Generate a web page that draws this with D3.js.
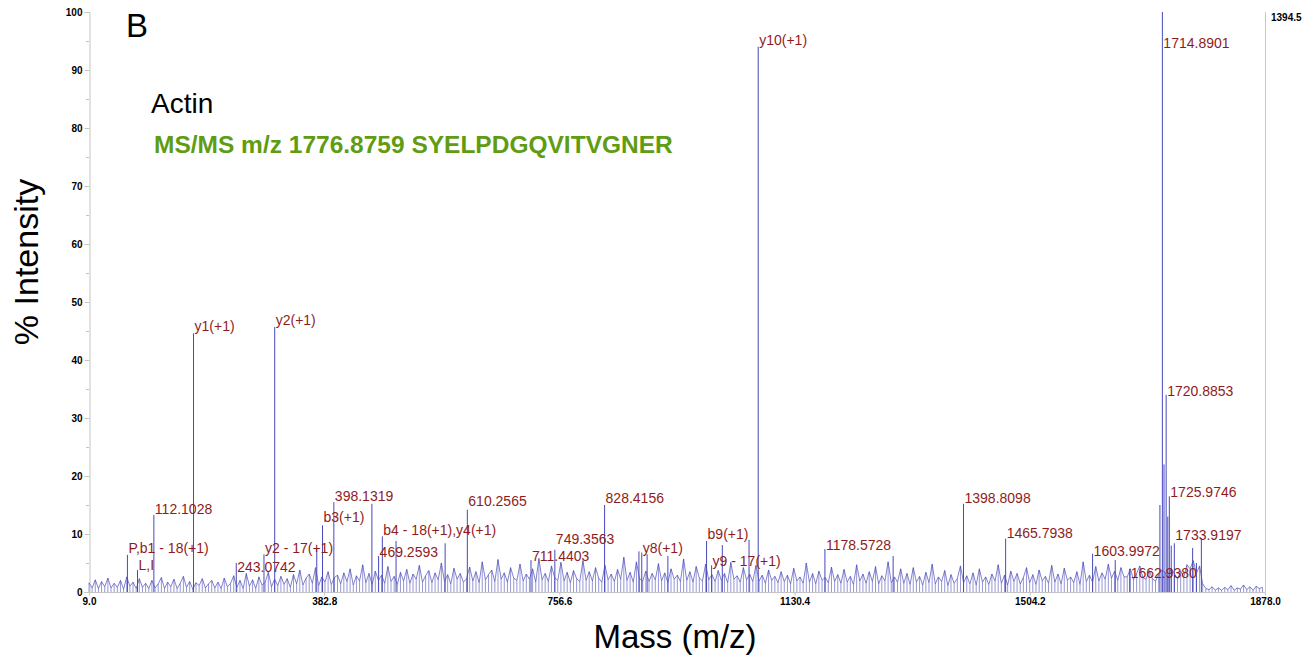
<!DOCTYPE html>
<html>
<head>
<meta charset="utf-8">
<script src="https://cdn.jsdelivr.net/npm/d3@7"></script>
<style>
  body { margin: 0; background: #fff; }
  svg { display: block; font-family: Arial, "Liberation Sans", sans-serif; }
  .tick text { font-weight: bold; font-size: 10px; fill: #000; }
  .tick line, .domain { stroke: #c4c4c4; }
</style>
</head>
<body>
<div id="chart"></div>
<script>
// noise trace, one value every 5 m/z starting at 9
var noiseStart = 9, noiseStep = 5;
var noise = [
  1.6,0.7,2.1,0.6,1.8,0.9,2.4,0.7,1.5,0.8,2.0,0.5,2.6,1.0,1.7,0.6,2.3,0.8,1.5,0.6,
  2.0,0.7,1.4,2.5,0.6,1.7,0.9,2.2,0.6,1.5,2.7,0.8,1.8,0.5,1.6,1.1,2.3,0.7,1.4,2.0,
  0.7,1.7,0.6,2.4,0.9,1.5,2.8,0.8,2.0,0.6,3.2,1.0,2.1,0.6,2.6,1.2,1.7,3.4,0.9,2.2,
  1.1,2.7,1.3,2.3,0.8,3.0,1.4,3.8,1.2,2.4,3.1,1.5,4.2,1.1,2.6,1.7,3.5,1.3,2.5,2.9,
  1.4,3.3,1.8,4.0,1.2,2.8,1.9,4.7,1.6,3.2,1.3,3.6,2.0,2.9,1.5,4.4,1.8,2.7,1.3,3.4,
  1.9,3.9,1.5,3.1,2.2,4.6,1.7,2.8,3.7,1.6,3.3,2.1,5.0,1.8,3.0,1.4,4.1,2.2,3.2,1.7,
  2.3,4.3,1.9,3.5,1.6,5.2,2.1,3.0,3.8,1.8,5.6,2.2,3.3,1.7,4.2,2.4,2.0,4.8,1.9,3.1,
  2.2,4.0,1.7,5.8,2.1,3.2,1.8,4.5,2.5,2.0,5.1,1.9,3.4,1.6,3.7,2.3,1.8,5.4,2.0,3.5,
  1.9,4.2,2.4,1.7,4.6,2.1,3.1,1.8,3.9,2.2,6.0,2.0,3.4,1.7,5.2,2.3,1.9,3.6,1.8,3.2,
  2.1,4.9,1.9,3.3,1.6,4.0,2.2,2.9,1.8,5.7,2.0,3.5,1.7,4.4,2.4,1.9,4.8,2.1,3.0,1.8,
  3.7,2.0,3.2,1.6,5.1,2.2,2.8,1.7,4.2,2.1,3.1,1.8,4.6,1.9,2.9,1.5,3.8,2.0,2.7,1.6,
  3.5,1.8,2.9,1.4,4.1,1.9,2.6,1.5,5.0,1.7,3.2,1.4,3.6,2.0,2.5,1.6,4.3,1.8,3.0,1.5,
  3.9,1.7,2.7,1.3,4.7,1.9,3.1,1.5,3.5,1.8,4.4,1.4,2.8,1.9,5.2,1.6,2.6,1.7,4.0,1.5,
  3.2,1.3,4.2,1.7,2.7,1.2,3.4,1.6,4.8,1.4,2.6,1.8,3.7,1.1,3.0,1.5,2.3,4.5,1.6,2.8,
  1.4,3.3,1.2,4.0,1.7,2.6,1.3,3.1,1.9,4.7,1.5,2.9,1.2,3.6,1.8,3.2,1.4,2.5,4.2,1.6,
  3.0,1.3,3.8,1.9,2.7,1.5,4.6,1.7,3.1,1.4,4.1,2.0,2.6,1.6,3.5,1.3,5.2,1.8,2.9,1.7,
  4.4,1.9,3.3,2.2,4.8,2.4,3.6,2.0,4.2,2.6,2.6,4.0,2.1,3.2,4.5,2.5,2.2,3.7,2.3,1.9,
  3.0,3.8,3.4,2.4,4.1,3.2,2.2,3.6,2.6,4.7,4.0,5.4,3.2,4.5,1.4,0.6,0.4,0.9,0.3,0.7,
  0.3,0.8,0.4,1.1,0.3,0.7,0.5,1.2,0.4,0.9,0.3,1.0,0.6,0.8
];

// main fragment peaks (m/z, % intensity)
var peakMz = [70.05, 86.1, 112.10, 175.12, 243.07, 287.1, 304.16, 371, 380.14, 398.13,
  458.6, 469.26, 475.2, 497, 575, 610.26, 711.44, 749.36, 828.42, 883, 887.5, 896, 929,
  990.5, 998.5, 1015.5, 1058, 1072.57, 1178.57, 1287, 1398.81, 1465.79, 1604.0, 1640,
  1662.94, 1711, 1714.89, 1717.5, 1720.89, 1723.5, 1725.97, 1729, 1733.92, 1763, 1769, 1776.88];
var peakInt = [6.4, 3.8, 13.3, 44.6, 5.0, 6.5, 45.7, 7.5, 11.5, 15.5,
  15.2, 6.2, 9.6, 8.8, 8.4, 14.2, 5.5, 7.3, 15.0, 7.0, 6.8, 6.5, 6.2,
  8.8, 4.6, 8.1, 9.0, 94.0, 7.4, 6.2, 15.2, 9.2, 6.6, 5.5,
  4.0, 15.0, 100, 22.0, 34.0, 13.0, 16.5, 8.0, 8.4, 7.6, 5.0, 9.3];

// annotations: anchor m/z, text, level (% intensity) of the text baseline
var labelMz = [70.05, 86.1, 112.10, 175.12, 243.07, 287.1, 304.16, 380.14, 398.13, 475.2,
  469.26, 610.26, 711.44, 749.36, 828.42, 887.5, 990.5, 998.5, 1072.57, 1178.57,
  1398.81, 1465.79, 1604.0, 1662.94, 1714.89, 1720.89, 1725.97, 1733.92];
var labelText = ["P,b1 - 18(+1)", "L,I", "112.1028", "y1(+1)", "243.0742", "y2 - 17(+1)", "y2(+1)",
  "b3(+1)", "398.1319", "b4 - 18(+1),y4(+1)", "469.2593", "610.2565", "711.4403", "749.3563",
  "828.4156", "y8(+1)", "b9(+1)", "y9 - 17(+1)", "y10(+1)", "1178.5728", "1398.8098",
  "1465.7938", "1603.9972", "1662.9380", "1714.8901", "1720.8853", "1725.9746", "1733.9197"];
var labelLevel = [6.7, 3.8, 13.4, 45.0, 3.4, 6.7, 46.0, 12.0, 15.7, 9.8,
  6.0, 14.8, 5.3, 8.3, 15.3, 6.7, 9.1, 4.5, 94.3, 7.2,
  15.3, 9.3, 6.2, 2.4, 93.8, 33.8, 16.4, 9.0];

var xTickVals = [9.0, 382.8, 756.6, 1130.4, 1504.2, 1878.0];
var yTickVals = [0, 10, 20, 30, 40, 50, 60, 70, 80, 90, 100];
var yMinorVals = [5, 15, 25, 35, 45, 55, 65, 75, 85, 95];

var width = 1310, height = 657;
var plotLeft = 89, plotRight = 1265, plotTop = 12, plotBottom = 592;

var svg = d3.select("#chart").append("svg")
  .attr("width", width)
  .attr("height", height);

var x = d3.scaleLinear().domain([9, 1878]).range([plotLeft, plotRight]);
var y = d3.scaleLinear().domain([0, 100]).range([plotBottom, plotTop]);

// frame: right border
svg.append("line")
  .attr("x1", plotRight + 0.5).attr("x2", plotRight + 0.5)
  .attr("y1", plotTop).attr("y2", plotBottom)
  .attr("stroke", "#c8c8c8");

// axes
svg.append("g")
  .attr("transform", "translate(" + (plotLeft + 0.5) + ",0)")
  .call(d3.axisLeft(y).tickValues(yTickVals).tickSize(5).tickPadding(2).tickFormat(d3.format("d")));

svg.append("g").selectAll("line")
  .data(yMinorVals)
  .enter().append("line")
  .attr("x1", plotLeft - 3).attr("x2", plotLeft)
  .attr("y1", function(d) { return Math.round(y(d)) + 0.5; })
  .attr("y2", function(d) { return Math.round(y(d)) + 0.5; })
  .attr("stroke", "#c4c4c4");

var xAxis = svg.append("g")
  .attr("transform", "translate(0," + (plotBottom + 0.5) + ")")
  .call(d3.axisBottom(x).tickValues(xTickVals).tickSize(3).tickPadding(2).tickFormat(d3.format(".1f")));
xAxis.select(".domain").attr("d", "M" + plotLeft + ",0H" + plotRight);

// noise: thin sticks plus the trace joining their tops
var noisePts = noise.map(function(v, i) { return [noiseStart + i * noiseStep, v]; });
svg.append("g").selectAll("line")
  .data(noisePts)
  .enter().append("line")
  .attr("x1", function(d) { return x(d[0]); })
  .attr("x2", function(d) { return x(d[0]); })
  .attr("y1", y(0))
  .attr("y2", function(d) { return y(d[1]); })
  .attr("stroke", "#6a6ac4")
  .attr("stroke-width", 0.7);
svg.append("path")
  .datum(noisePts)
  .attr("fill", "none")
  .attr("stroke", "#4a4ab8")
  .attr("stroke-width", 0.7)
  .attr("d", d3.line().x(function(d) { return x(d[0]); }).y(function(d) { return y(d[1]); }));

// peaks as sticks
svg.append("g").selectAll("line")
  .data(peakMz)
  .enter().append("line")
  .attr("x1", function(d) { return x(d); })
  .attr("x2", function(d) { return x(d); })
  .attr("y1", y(0))
  .attr("y2", function(d, i) { return y(peakInt[i]); })
  .attr("stroke", "#4848bc")
  .attr("stroke-width", 1);

// peak annotations
svg.append("g").selectAll("text")
  .data(labelMz)
  .enter().append("text")
  .attr("x", function(d) { return x(d) + 1; })
  .attr("y", function(d, i) { return y(labelLevel[i]); })
  .attr("fill", "#8f1c1c")
  .style("font-size", "14px")
  .text(function(d, i) { return labelText[i]; });

// top right full-scale value
svg.append("text")
  .attr("x", plotRight + 6).attr("y", 21)
  .style("font-size", "10px").style("font-weight", "bold")
  .text("1394.5");

// panel letter and titles
svg.append("text").attr("x", 126).attr("y", 37)
  .style("font-size", "33px").text("B");
svg.append("text").attr("x", 151).attr("y", 113)
  .style("font-size", "28px").text("Actin");
svg.append("text").attr("x", 154).attr("y", 153)
  .style("font-size", "24.5px").style("font-weight", "bold").attr("fill", "#5f9c12")
  .text("MS/MS m/z 1776.8759 SYELPDGQVITVGNER");

// axis titles
svg.append("text")
  .attr("transform", "translate(38,262) rotate(-90)")
  .attr("text-anchor", "middle")
  .style("font-size", "34px")
  .text("% Intensity");
svg.append("text")
  .attr("x", 675).attr("y", 648)
  .attr("text-anchor", "middle")
  .style("font-size", "33px")
  .text("Mass (m/z)");
</script>
</body>
</html>
